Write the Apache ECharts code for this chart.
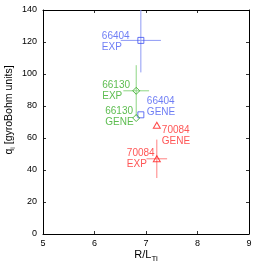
<!DOCTYPE html>
<html><head><meta charset="utf-8">
<script src="https://cdn.jsdelivr.net/npm/echarts@6/dist/echarts.min.js"></script>
<style>html,body{margin:0;padding:0;background:#fff}#c{width:256px;height:265px}</style>
</head><body><div id="c"></div>
<script>
// ---- data ----
const shots = ['66404', '66130', '70084'];
const rlti = [6.90, 6.81, 7.21];          // R/L_Ti (EXP and GENE share it)
const rltiErr = [0.39, 0.25, 0.20];
const qExp = [121, 89.5, 47];
const qExpErr = [20, 16, 12];
const qGene = [74.5, 72.5, 68];
const xTicks = [5, 6, 7, 8, 9];
const yTicks = [0, 20, 40, 60, 80, 100, 120, 140];

// ---- styling / layout (not data) ----
const markColor = ['#3e50f0', '#30a820', '#ff1a1a'];
const barColor = ['#8e9af5', '#8ed684', '#ff8080'];
const textColor = ['#4a5cf2', '#34ac24', '#ff2a2a'];
const symbols = ['rect', 'diamond', 'triangle'];
const symSize = [[6, 6], [7, 7], [7, 6]];
const expLabelOff = [[-39, 1], [-34, 0], [-30, 0]];
const geneLabelOff = [[6, -8], [-31, -1], [5, 11]];
const FONT = 'Liberation Sans, Arial, sans-serif';

const series = [];
shots.forEach((s, i) => {
  series.push({
    type: 'custom', xAxisIndex: 0, yAxisIndex: 0, clip: true, silent: true,
    data: [[rlti[i], qExp[i], rltiErr[i], qExpErr[i]]],
    renderItem: (params, api) => {
      const x = api.value(0), y = api.value(1), ex = api.value(2), ey = api.value(3);
      const a = api.coord([x - ex, y]), b = api.coord([x + ex, y]);
      const c = api.coord([x, y - ey]), d = api.coord([x, y + ey]);
      const style = { stroke: barColor[i], lineWidth: 1, fill: null };
      return { type: 'group', children: [
        { type: 'line', shape: { x1: a[0], y1: a[1], x2: b[0], y2: b[1] }, style },
        { type: 'line', shape: { x1: c[0], y1: c[1], x2: d[0], y2: d[1] }, style }
      ] };
    },
    z: 2
  });
  const mk = (yv, name, off) => ({
    type: 'scatter', xAxisIndex: 0, yAxisIndex: 0, silent: true,
    symbol: symbols[i], symbolSize: symSize[i],
    itemStyle: { color: 'rgba(0,0,0,0)', borderColor: markColor[i], borderWidth: 1 },
    data: [[rlti[i], yv]],
    label: {
      show: true, position: 'inside', offset: off, align: 'left', verticalAlign: 'middle',
      formatter: s + '\n' + name, color: textColor[i], fontSize: 10, lineHeight: 11,
      fontFamily: FONT
    },
    z: 3
  });
  series.push(mk(qExp[i], 'EXP', expLabelOff[i]));
  series.push(mk(qGene[i], 'GENE', geneLabelOff[i]));
});

const axisCommon = {
  axisLine: { show: true, onZero: false, lineStyle: { color: '#000', width: 1 } },
  axisTick: { show: true, inside: true, length: 3, lineStyle: { color: '#000', width: 0.8 } },
  splitLine: { show: false },
  nameMoveOverlap: false,
  axisLabel: { color: '#000', fontSize: 9, fontFamily: 'Liberation Sans Narrow, Arial Narrow, ' + FONT }
};

const chart = echarts.init(document.getElementById('c'), null, { renderer: 'canvas' });
chart.setOption({
  animation: false,
  backgroundColor: '#fff',
  grid: { left: 43, right: 7, top: 10, bottom: 31, containLabel: false, outerBoundsMode: 'none' },
  xAxis: [
    Object.assign({}, axisCommon, {
      type: 'value', position: 'bottom', min: xTicks[0], max: xTicks[xTicks.length - 1], interval: 1,
      axisLabel: Object.assign({}, axisCommon.axisLabel, { margin: 5 }),
      name: 'R/L{sub|Ti}', nameLocation: 'middle', nameGap: 12,
      nameTextStyle: { color: '#000', fontSize: 11, fontFamily: FONT, verticalAlign: 'top',
        rich: { sub: { fontSize: 8, padding: [9, 0, 0, 0], fontFamily: FONT, color: '#000' } } }
    }),
    Object.assign({}, axisCommon, {
      type: 'value', position: 'top', min: xTicks[0], max: xTicks[xTicks.length - 1], interval: 1,
      axisLabel: { show: false }
    })
  ],
  yAxis: [
    Object.assign({}, axisCommon, {
      type: 'value', position: 'left', min: yTicks[0], max: yTicks[yTicks.length - 1], interval: 20,
      axisLabel: Object.assign({}, axisCommon.axisLabel, { margin: 6 }),
      name: 'q{sub|i} [gyroBohm units]', nameLocation: 'middle', nameGap: 26, nameRotate: 90,
      nameTextStyle: { color: '#000', fontSize: 10.5, fontFamily: FONT, padding: [0, 0, 0, 24],
        rich: { sub: { fontSize: 7, padding: [8, 0, 0, 0], fontFamily: FONT, color: '#000' } } }
    }),
    Object.assign({}, axisCommon, {
      type: 'value', position: 'right', min: yTicks[0], max: yTicks[yTicks.length - 1], interval: 20,
      axisLabel: { show: false }
    })
  ],
  series
});
</script></body></html>
